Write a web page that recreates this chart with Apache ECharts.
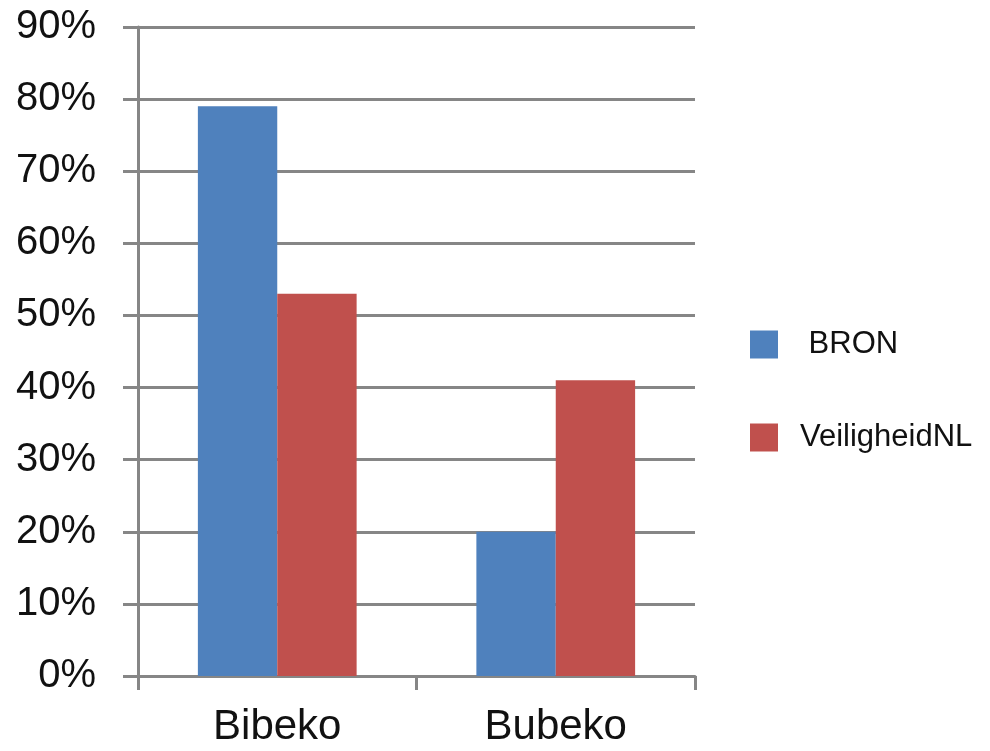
<!DOCTYPE html>
<html>
<head>
<meta charset="utf-8">
<script src="https://cdn.jsdelivr.net/npm/echarts@6/dist/echarts.min.js"></script>
<style>html,body{margin:0;padding:0;background:#fff}#c{width:990px;height:751px}</style>
</head>
<body>
<div id="c"></div>
<script>
const categories = ['Bibeko', 'Bubeko'];
const bronValues = [79, 20];
const veiligheidValues = [53, 41];
const seriesNames = ['BRON', 'VeiligheidNL'];
const yTicks = [0, 10, 20, 30, 40, 50, 60, 70, 80, 90];

const gridColor = '#868686';
const chart = echarts.init(document.getElementById('c'));
chart.setOption({
  animation: false,
  backgroundColor: '#fff',
  grid: { left: 138, right: 295, top: 27, bottom: 75, containLabel: false },
  legend: {
    orient: 'vertical',
    left: 745,
    top: 324,
    itemWidth: 28,
    itemHeight: 28,
    itemGap: 62,
    icon: 'rect',
    formatter: n => n === 'BRON' ? ' BRON' : n,
    textStyle: { fontFamily: 'Liberation Sans, Arial, sans-serif', fontSize: 31, color: '#111', padding: [0, 0, 0, 17], lineHeight: 30 },
    data: seriesNames
  },
  xAxis: {
    type: 'category',
    data: categories,
    axisLine: { lineStyle: { color: gridColor, width: 3 } },
    axisTick: { show: true, length: 14, lineStyle: { color: gridColor, width: 3 } },
    axisLabel: { fontFamily: 'Liberation Sans, Arial, sans-serif', fontSize: 42, color: '#111', margin: 30 },
    splitLine: { show: false }
  },
  yAxis: {
    type: 'value',
    min: yTicks[0],
    max: yTicks[yTicks.length - 1],
    interval: 10,
    axisLine: { show: true, lineStyle: { color: gridColor, width: 3 } },
    axisTick: { show: true, length: 15, lineStyle: { color: gridColor, width: 3 } },
    axisLabel: { formatter: '{value}%', fontFamily: 'Liberation Sans, Arial, sans-serif', fontSize: 40, color: '#111', margin: 42 },
    splitLine: { show: true, lineStyle: { color: gridColor, width: 3 } }
  },
  series: [
    { name: seriesNames[0], type: 'bar', data: bronValues, itemStyle: { color: '#4f81bd' }, barGap: '0%', barCategoryGap: '43%' },
    { name: seriesNames[1], type: 'bar', data: veiligheidValues, itemStyle: { color: '#c0504d' }, barGap: '0%', barCategoryGap: '43%' }
  ]
});
</script>
</body>
</html>
